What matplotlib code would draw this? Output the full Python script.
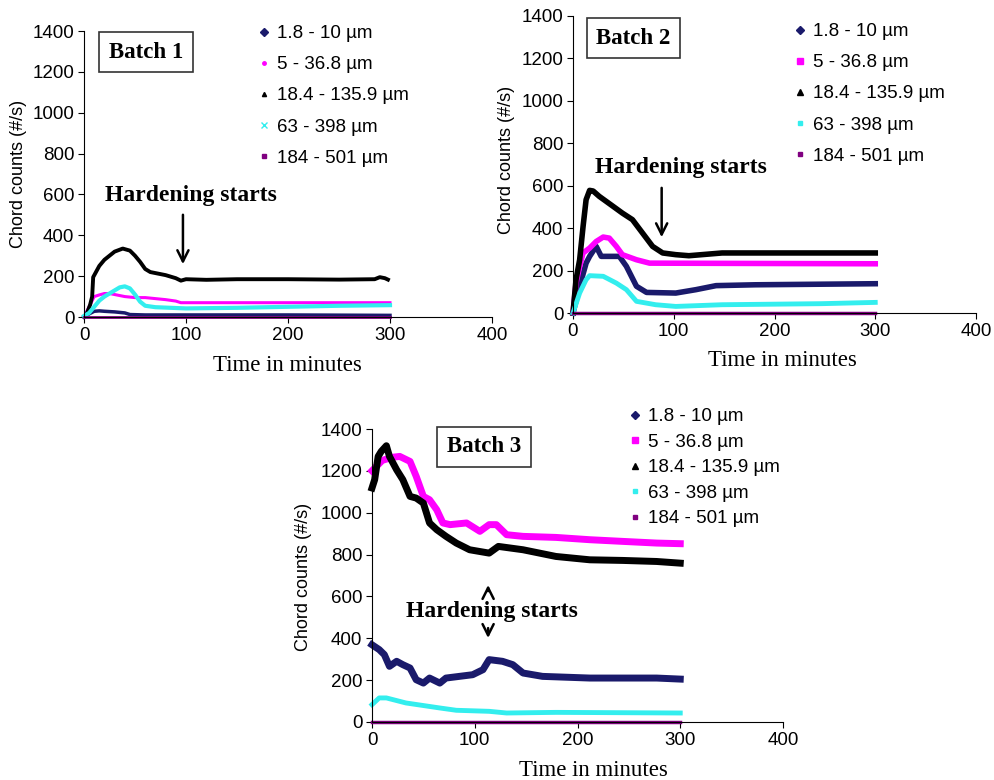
import matplotlib
matplotlib.use("Agg")
import matplotlib.pyplot as plt
from matplotlib.lines import Line2D

plt.rcParams['font.family'] = ['Liberation Sans', 'DejaVu Sans']

labels = ["1.8 - 10 µm", "5 - 36.8 µm", "18.4 - 135.9 µm", "63 - 398 µm", "184 - 501 µm"]
colors = ["#1a1a6b", "#ff00ff", "#000000", "#33eeee", "#800080"]

# Batch 1
b1_t_navy = [0, 5, 10, 15, 20, 30, 40, 45, 60, 100, 200, 300]
b1_v_navy = [0, 15, 28, 30, 28, 25, 20, 12, 10, 10, 10, 8]
b1_t_mag = [0, 5, 10, 15, 20, 25, 30, 40, 50, 60, 70, 80, 90, 95, 150, 200, 300]
b1_v_mag = [0, 50, 100, 108, 115, 115, 110, 100, 95, 95, 90, 85, 78, 70, 70, 70, 70]
b1_t_black = [0, 3, 6, 8, 9, 15, 20, 25, 30, 38, 45, 50, 55, 60, 65, 70, 80, 90, 95, 100, 120, 150, 200, 250, 285, 290, 295, 298]
b1_v_black = [0, 20, 60, 100, 195, 250, 280, 300, 320, 335, 325, 300, 270, 235, 220, 215, 205, 190, 178, 185, 182, 185, 185, 183, 185, 195, 190, 183]
b1_t_cyan = [0, 5, 10, 15, 20, 25, 30, 35, 40, 45, 50, 55, 60, 70, 100, 150, 200, 250, 300]
b1_v_cyan = [5, 20, 50, 80, 100, 115, 130, 145, 150, 140, 110, 75, 55, 48, 42, 45, 50, 55, 58]
b1_t_purple = [0, 300]
b1_v_purple = [0, 0]

# Batch 2
b2_t_navy = [0, 6.6, 13, 16.5, 23, 28, 36, 46, 53, 63, 73, 102, 122, 142, 181, 300]
b2_v_navy = [0, 126, 235, 267, 314, 267, 267, 267, 220, 126, 97, 94, 110, 129, 133, 138]
b2_t_mag = [0, 3, 6.6, 10, 16.5, 23, 30, 36, 43, 49, 63, 76, 300]
b2_v_mag = [0, 141, 220, 283, 306, 337, 358, 353, 314, 275, 251, 235, 232]
b2_t_black = [0, 3, 6.6, 10, 13, 16.5, 20, 26, 40, 49, 59, 69, 79, 89, 102, 115, 148, 300]
b2_v_black = [0, 157, 251, 408, 534, 578, 575, 550, 502, 471, 440, 377, 314, 283, 275, 270, 283, 283]
b2_t_cyan = [0, 6.6, 13, 16.5, 30, 43, 53, 63, 82, 102, 148, 247, 300]
b2_v_cyan = [0, 94, 157, 176, 173, 141, 110, 55, 39, 31, 39, 44, 50]
b2_t_purple = [0, 300]
b2_v_purple = [0, 0]

# Batch 3
b3_t_navy = [0, 7, 12, 17, 24, 30, 37, 43, 50, 56, 66, 72, 98, 108, 114, 127, 137, 147, 166, 212, 277, 300]
b3_v_navy = [369, 346, 322, 266, 290, 274, 258, 202, 186, 210, 186, 210, 226, 250, 298, 290, 274, 234, 218, 210, 210, 205]
b3_t_mag = [0, 10, 20, 27, 37, 43, 50, 56, 63, 69, 76, 92, 105, 114, 121, 131, 147, 179, 212, 244, 277, 300]
b3_v_mag = [1200, 1250, 1265, 1269, 1245, 1174, 1078, 1062, 1014, 951, 943, 951, 911, 943, 943, 895, 887, 882, 871, 863, 855, 852]
b3_t_black = [0, 2.6, 6, 9, 14, 17, 24, 30, 37, 43, 50, 56, 63, 72, 82, 95, 114, 123, 147, 179, 212, 244, 277, 300]
b3_v_black = [1118, 1158, 1269, 1293, 1320, 1269, 1205, 1158, 1078, 1070, 1046, 951, 919, 887, 855, 823, 807, 839, 823, 791, 775, 772, 767, 759]
b3_t_cyan = [0, 7, 14, 33, 66, 82, 114, 131, 179, 300]
b3_v_cyan = [83, 115, 115, 91, 67, 56, 51, 43, 46, 43]
b3_t_purple = [0, 300]
b3_v_purple = [0, 0]

fig = plt.figure(figsize=(9.94, 7.8), dpi=100)


def panel(rect, series, widths, batch, batch_xy, hard_xy, arrows, markers, leg_xy, leg_space, ylab_xy, xlab_xy):
    ax = fig.add_axes(rect)
    for (t, v), c, w in zip(series, colors, widths):
        ax.plot(t, v, color=c, lw=w, solid_joinstyle='round', clip_on=False)
    ax.set_xlim(0, 400)
    ax.set_ylim(0, 1400)
    ax.set_xticks(range(0, 401, 100))
    ax.set_yticks(range(0, 1401, 200))
    for s in ['top', 'right']:
        ax.spines[s].set_visible(False)
    ax.tick_params(labelsize=13.5, length=4, direction='out', pad=3)
    ax.set_ylabel("Chord counts (#/s)", fontsize=13)
    ax.yaxis.set_label_coords(*ylab_xy)
    ax.set_xlabel("Time in minutes", fontsize=16.5, family='Liberation Serif')
    ax.xaxis.set_label_coords(*xlab_xy)
    ax.xaxis.label.set_va('top')
    ax.text(batch_xy[0], batch_xy[1], batch, fontsize=16.5, family='Liberation Serif', weight='bold',
            ha='center', va='center', clip_on=False,
            bbox=dict(boxstyle='square,pad=0.42', fc='white', ec='#333333', lw=1.2))
    ax.text(hard_xy[0], hard_xy[1], "Hardening starts", fontsize=17, family='Liberation Serif',
            weight='bold', ha='center', va='center')
    for (x0, y0, x1, y1) in arrows:
        ax.annotate("", xy=(x1, y1), xytext=(x0, y0),
                    arrowprops=dict(arrowstyle='->', lw=1.8, color='black', mutation_scale=20))
    handles = [Line2D([], [], ls='none', marker=m, color=c, markersize=s)
               for (m, s), c in zip(markers, colors)]
    fig.legend(handles, labels, loc='upper left', bbox_to_anchor=leg_xy, bbox_transform=fig.transFigure,
               frameon=False, fontsize=13.5, handlelength=0.6, handletextpad=0.4, borderpad=0,
               borderaxespad=0, labelspacing=leg_space)
    return ax


W, H = 994.0, 780.0


def rect(l, r, top, bot):
    return [l / W, 1 - bot / H, (r - l) / W, (bot - top) / H]


panel(rect(84, 492, 31, 317),
      [(b1_t_navy, b1_v_navy), (b1_t_mag, b1_v_mag), (b1_t_black, b1_v_black),
       (b1_t_cyan, b1_v_cyan), (b1_t_purple, b1_v_purple)],
      [2.5, 2.2, 2.8, 3.0, 2.0],
      "Batch 1", (61, 1297), (105, 597), [(97, 514, 97, 245)],
      [('D', 4), ('o', 2.5), ('^', 3), ('x', 4), ('s', 3.5)],
      (258 / W, 1 - 25 / H), 0.75, (-0.14, 0.5), (0.4975, -0.133))

panel(rect(573, 976, 16, 313),
      [(b2_t_navy, b2_v_navy), (b2_t_mag, b2_v_mag), (b2_t_black, b2_v_black),
       (b2_t_cyan, b2_v_cyan), (b2_t_purple, b2_v_purple)],
      [4, 4, 4, 3.5, 2.5],
      "Batch 2", (60, 1296), (107, 684), [(88, 603, 88, 344)],
      [('D', 4), ('s', 5), ('^', 5), ('s', 3.5), ('s', 3.5)],
      (794 / W, 1 - 23 / H), 0.75, (-0.144, 0.515), (0.519, -0.125))

panel(rect(372, 783, 429, 722),
      [(b3_t_navy, b3_v_navy), (b3_t_mag, b3_v_mag), (b3_t_black, b3_v_black),
       (b3_t_cyan, b3_v_cyan), (b3_t_purple, b3_v_purple)],
      [5, 5, 5, 3.5, 2.5],
      "Batch 3", (109, 1315), (116.5, 528), [(113, 612, 113, 668), (113, 462, 113, 388)],
      [('D', 4), ('s', 5), ('^', 5), ('s', 3.5), ('s', 3.5)],
      (629 / W, 1 - 408 / H), 0.45, (-0.146, 0.495), (0.538, -0.13))

fig.savefig("out.png", dpi=100)
